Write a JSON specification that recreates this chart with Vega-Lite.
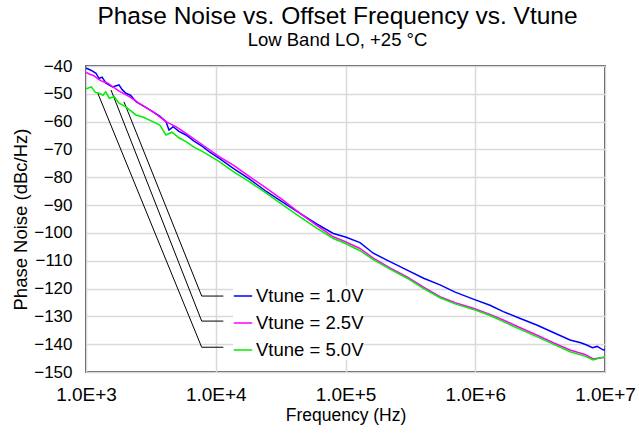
{
  "$schema": "https://vega.github.io/schema/vega-lite/v6.json",
  "autosize": {"type": "none"},
  "padding": {"left": 86, "top": 66, "right": 34, "bottom": 64},
  "width": 519,
  "height": 306,
  "background": "white",
  "config": {
    "font": "Liberation Sans",
    "view": {"stroke": "#222222", "strokeWidth": 1.6},
    "axis": {"gridColor": "#d9d9d9", "gridWidth": 1.5, "domain": false, "ticks": false, "labelFont": "Liberation Sans", "titleFont": "Liberation Sans", "labelColor": "#000", "titleColor": "#000", "titleFontWeight": "normal"}
  },
  "title": {
    "text": "Phase Noise vs. Offset Frequency vs. Vtune",
    "subtitle": "Low Band LO, +25 °C",
    "font": "Liberation Sans",
    "fontSize": 24.5,
    "fontWeight": "normal",
    "color": "#000",
    "subtitleFont": "Liberation Sans",
    "subtitleFontSize": 18.5,
    "subtitleColor": "#000",
    "subtitlePadding": 1,
    "anchor": "middle",
    "dx": -8,
    "offset": 7
  },
  "datasets": {
    "curves": [
      {"f": 1000, "v": -40.8, "s": "Vtune = 1.0V"},
      {"f": 1030, "v": -41.0, "s": "Vtune = 1.0V"},
      {"f": 1100, "v": -41.6, "s": "Vtune = 1.0V"},
      {"f": 1194, "v": -42.6, "s": "Vtune = 1.0V"},
      {"f": 1260, "v": -44.5, "s": "Vtune = 1.0V"},
      {"f": 1330, "v": -44.0, "s": "Vtune = 1.0V"},
      {"f": 1426, "v": -46.2, "s": "Vtune = 1.0V"},
      {"f": 1600, "v": -47.5, "s": "Vtune = 1.0V"},
      {"f": 1796, "v": -46.8, "s": "Vtune = 1.0V"},
      {"f": 1900, "v": -48.5, "s": "Vtune = 1.0V"},
      {"f": 2034, "v": -49.8, "s": "Vtune = 1.0V"},
      {"f": 2200, "v": -50.5, "s": "Vtune = 1.0V"},
      {"f": 2428, "v": -52.8, "s": "Vtune = 1.0V"},
      {"f": 2800, "v": -54.5, "s": "Vtune = 1.0V"},
      {"f": 3267, "v": -56.4, "s": "Vtune = 1.0V"},
      {"f": 3700, "v": -58.0, "s": "Vtune = 1.0V"},
      {"f": 4137, "v": -60.0, "s": "Vtune = 1.0V"},
      {"f": 4362, "v": -63.0, "s": "Vtune = 1.0V"},
      {"f": 4700, "v": -61.8, "s": "Vtune = 1.0V"},
      {"f": 5200, "v": -63.5, "s": "Vtune = 1.0V"},
      {"f": 5898, "v": -64.8, "s": "Vtune = 1.0V"},
      {"f": 6800, "v": -67.0, "s": "Vtune = 1.0V"},
      {"f": 7935, "v": -69.0, "s": "Vtune = 1.0V"},
      {"f": 9000, "v": -71.0, "s": "Vtune = 1.0V"},
      {"f": 10651, "v": -73.2, "s": "Vtune = 1.0V"},
      {"f": 13654, "v": -76.8, "s": "Vtune = 1.0V"},
      {"f": 18000, "v": -80.5, "s": "Vtune = 1.0V"},
      {"f": 24703, "v": -85.2, "s": "Vtune = 1.0V"},
      {"f": 33000, "v": -89.0, "s": "Vtune = 1.0V"},
      {"f": 44610, "v": -93.0, "s": "Vtune = 1.0V"},
      {"f": 60000, "v": -96.8, "s": "Vtune = 1.0V"},
      {"f": 80540, "v": -100.2, "s": "Vtune = 1.0V"},
      {"f": 100000, "v": -101.5, "s": "Vtune = 1.0V"},
      {"f": 129340, "v": -103.5, "s": "Vtune = 1.0V"},
      {"f": 163800, "v": -107.3, "s": "Vtune = 1.0V"},
      {"f": 220000, "v": -110.3, "s": "Vtune = 1.0V"},
      {"f": 296200, "v": -113.3, "s": "Vtune = 1.0V"},
      {"f": 400000, "v": -116.3, "s": "Vtune = 1.0V"},
      {"f": 534900, "v": -118.7, "s": "Vtune = 1.0V"},
      {"f": 700000, "v": -121.3, "s": "Vtune = 1.0V"},
      {"f": 966000, "v": -123.8, "s": "Vtune = 1.0V"},
      {"f": 1299000, "v": -126.0, "s": "Vtune = 1.0V"},
      {"f": 1645000, "v": -128.3, "s": "Vtune = 1.0V"},
      {"f": 2200000, "v": -130.7, "s": "Vtune = 1.0V"},
      {"f": 2976000, "v": -133.1, "s": "Vtune = 1.0V"},
      {"f": 4000000, "v": -135.8, "s": "Vtune = 1.0V"},
      {"f": 5374000, "v": -138.5, "s": "Vtune = 1.0V"},
      {"f": 6500000, "v": -139.5, "s": "Vtune = 1.0V"},
      {"f": 7228000, "v": -140.3, "s": "Vtune = 1.0V"},
      {"f": 8000000, "v": -141.3, "s": "Vtune = 1.0V"},
      {"f": 8700000, "v": -140.8, "s": "Vtune = 1.0V"},
      {"f": 9705000, "v": -142.1, "s": "Vtune = 1.0V"},
      {"f": 10000000, "v": -141.9, "s": "Vtune = 1.0V"},

      {"f": 1000, "v": -42.3, "s": "Vtune = 2.5V"},
      {"f": 1050, "v": -42.8, "s": "Vtune = 2.5V"},
      {"f": 1150, "v": -43.5, "s": "Vtune = 2.5V"},
      {"f": 1250, "v": -44.8, "s": "Vtune = 2.5V"},
      {"f": 1345, "v": -45.6, "s": "Vtune = 2.5V"},
      {"f": 1450, "v": -46.0, "s": "Vtune = 2.5V"},
      {"f": 1606, "v": -47.4, "s": "Vtune = 2.5V"},
      {"f": 1800, "v": -49.0, "s": "Vtune = 2.5V"},
      {"f": 2157, "v": -51.0, "s": "Vtune = 2.5V"},
      {"f": 2575, "v": -53.4, "s": "Vtune = 2.5V"},
      {"f": 3267, "v": -56.4, "s": "Vtune = 2.5V"},
      {"f": 4137, "v": -60.0, "s": "Vtune = 2.5V"},
      {"f": 5000, "v": -62.0, "s": "Vtune = 2.5V"},
      {"f": 5898, "v": -64.2, "s": "Vtune = 2.5V"},
      {"f": 7935, "v": -68.4, "s": "Vtune = 2.5V"},
      {"f": 10651, "v": -72.6, "s": "Vtune = 2.5V"},
      {"f": 13654, "v": -75.6, "s": "Vtune = 2.5V"},
      {"f": 18000, "v": -79.6, "s": "Vtune = 2.5V"},
      {"f": 24703, "v": -84.0, "s": "Vtune = 2.5V"},
      {"f": 33000, "v": -88.2, "s": "Vtune = 2.5V"},
      {"f": 44610, "v": -93.0, "s": "Vtune = 2.5V"},
      {"f": 60000, "v": -97.3, "s": "Vtune = 2.5V"},
      {"f": 80540, "v": -101.4, "s": "Vtune = 2.5V"},
      {"f": 100000, "v": -103.2, "s": "Vtune = 2.5V"},
      {"f": 129340, "v": -105.6, "s": "Vtune = 2.5V"},
      {"f": 163800, "v": -109.1, "s": "Vtune = 2.5V"},
      {"f": 220000, "v": -112.6, "s": "Vtune = 2.5V"},
      {"f": 296200, "v": -115.7, "s": "Vtune = 2.5V"},
      {"f": 400000, "v": -119.5, "s": "Vtune = 2.5V"},
      {"f": 534900, "v": -122.9, "s": "Vtune = 2.5V"},
      {"f": 700000, "v": -125.1, "s": "Vtune = 2.5V"},
      {"f": 966000, "v": -127.1, "s": "Vtune = 2.5V"},
      {"f": 1300000, "v": -129.3, "s": "Vtune = 2.5V"},
      {"f": 1645000, "v": -131.3, "s": "Vtune = 2.5V"},
      {"f": 2200000, "v": -134.0, "s": "Vtune = 2.5V"},
      {"f": 2976000, "v": -136.7, "s": "Vtune = 2.5V"},
      {"f": 4000000, "v": -139.5, "s": "Vtune = 2.5V"},
      {"f": 5374000, "v": -142.1, "s": "Vtune = 2.5V"},
      {"f": 7000000, "v": -143.7, "s": "Vtune = 2.5V"},
      {"f": 8128000, "v": -145.3, "s": "Vtune = 2.5V"},
      {"f": 9000000, "v": -145.0, "s": "Vtune = 2.5V"},
      {"f": 10000000, "v": -144.7, "s": "Vtune = 2.5V"},

      {"f": 1000, "v": -48.2, "s": "Vtune = 5.0V"},
      {"f": 1030, "v": -48.0, "s": "Vtune = 5.0V"},
      {"f": 1100, "v": -47.5, "s": "Vtune = 5.0V"},
      {"f": 1180, "v": -49.5, "s": "Vtune = 5.0V"},
      {"f": 1266, "v": -49.8, "s": "Vtune = 5.0V"},
      {"f": 1350, "v": -50.5, "s": "Vtune = 5.0V"},
      {"f": 1420, "v": -49.3, "s": "Vtune = 5.0V"},
      {"f": 1512, "v": -51.6, "s": "Vtune = 5.0V"},
      {"f": 1650, "v": -51.0, "s": "Vtune = 5.0V"},
      {"f": 1796, "v": -53.4, "s": "Vtune = 5.0V"},
      {"f": 2000, "v": -54.5, "s": "Vtune = 5.0V"},
      {"f": 2428, "v": -57.6, "s": "Vtune = 5.0V"},
      {"f": 2800, "v": -58.5, "s": "Vtune = 5.0V"},
      {"f": 3267, "v": -60.0, "s": "Vtune = 5.0V"},
      {"f": 3700, "v": -61.2, "s": "Vtune = 5.0V"},
      {"f": 4137, "v": -64.8, "s": "Vtune = 5.0V"},
      {"f": 4600, "v": -63.8, "s": "Vtune = 5.0V"},
      {"f": 5200, "v": -65.8, "s": "Vtune = 5.0V"},
      {"f": 5898, "v": -67.2, "s": "Vtune = 5.0V"},
      {"f": 6800, "v": -69.2, "s": "Vtune = 5.0V"},
      {"f": 7935, "v": -70.8, "s": "Vtune = 5.0V"},
      {"f": 9000, "v": -72.3, "s": "Vtune = 5.0V"},
      {"f": 10651, "v": -74.4, "s": "Vtune = 5.0V"},
      {"f": 13654, "v": -78.0, "s": "Vtune = 5.0V"},
      {"f": 18000, "v": -81.5, "s": "Vtune = 5.0V"},
      {"f": 24703, "v": -85.8, "s": "Vtune = 5.0V"},
      {"f": 33000, "v": -90.0, "s": "Vtune = 5.0V"},
      {"f": 44610, "v": -94.2, "s": "Vtune = 5.0V"},
      {"f": 60000, "v": -98.3, "s": "Vtune = 5.0V"},
      {"f": 80540, "v": -102.0, "s": "Vtune = 5.0V"},
      {"f": 100000, "v": -103.8, "s": "Vtune = 5.0V"},
      {"f": 129340, "v": -106.4, "s": "Vtune = 5.0V"},
      {"f": 163800, "v": -109.6, "s": "Vtune = 5.0V"},
      {"f": 220000, "v": -113.0, "s": "Vtune = 5.0V"},
      {"f": 296200, "v": -116.2, "s": "Vtune = 5.0V"},
      {"f": 400000, "v": -120.0, "s": "Vtune = 5.0V"},
      {"f": 534900, "v": -123.3, "s": "Vtune = 5.0V"},
      {"f": 700000, "v": -125.5, "s": "Vtune = 5.0V"},
      {"f": 966000, "v": -127.5, "s": "Vtune = 5.0V"},
      {"f": 1300000, "v": -129.7, "s": "Vtune = 5.0V"},
      {"f": 1645000, "v": -131.9, "s": "Vtune = 5.0V"},
      {"f": 2200000, "v": -134.6, "s": "Vtune = 5.0V"},
      {"f": 2976000, "v": -137.3, "s": "Vtune = 5.0V"},
      {"f": 4000000, "v": -140.0, "s": "Vtune = 5.0V"},
      {"f": 5374000, "v": -142.7, "s": "Vtune = 5.0V"},
      {"f": 7000000, "v": -144.3, "s": "Vtune = 5.0V"},
      {"f": 8128000, "v": -145.7, "s": "Vtune = 5.0V"},
      {"f": 9000000, "v": -145.0, "s": "Vtune = 5.0V"},
      {"f": 10000000, "v": -144.7, "s": "Vtune = 5.0V"}
    ],
    "leaders": [
      {"g": "a", "o": 1, "f": 1963, "v": -52.9},
      {"g": "a", "o": 2, "f": 7793, "v": -122.7},
      {"g": "a", "o": 3, "f": 11437, "v": -122.7},
      {"g": "b", "o": 1, "f": 1558, "v": -48.6},
      {"g": "b", "o": 2, "f": 7793, "v": -131.7},
      {"g": "b", "o": 3, "f": 11437, "v": -131.7},
      {"g": "c", "o": 1, "f": 1231, "v": -49.7},
      {"g": "c", "o": 2, "f": 7793, "v": -141.1},
      {"g": "c", "o": 3, "f": 11437, "v": -141.1}
    ]
  },
  "encoding": {
    "x": {
      "field": "f", "type": "quantitative",
      "scale": {"type": "log", "domain": [1000, 10000000], "nice": false},
      "axis": {"title": "Frequency (Hz)", "values": [1000, 10000, 100000, 1000000, 10000000], "labelExpr": "'1.0E+' + round(log(datum.value) / LN10)", "labelFontSize": 19, "titleFontSize": 17.5, "labelPadding": 13, "titlePadding": 2, "labelFlush": false}
    },
    "y": {
      "field": "v", "type": "quantitative",
      "scale": {"domain": [-150, -40], "nice": false, "zero": false},
      "axis": {"title": "Phase Noise (dBc/Hz)", "values": [-150, -140, -130, -120, -110, -100, -90, -80, -70, -60, -50, -40], "labelFontSize": 17, "titleFontSize": 18.5, "labelPadding": 14, "titlePadding": 3}
    }
  },
  "layer": [
    {
      "data": {"name": "leaders"},
      "mark": {"type": "line", "color": "#000000", "strokeWidth": 1},
      "encoding": {"detail": {"field": "g"}, "order": {"field": "o"}}
    },
    {
      "data": {"name": "curves"},
      "mark": {"type": "line", "strokeWidth": 1.5},
      "encoding": {
        "color": {
          "field": "s", "type": "nominal",
          "scale": {"domain": ["Vtune = 1.0V", "Vtune = 2.5V", "Vtune = 5.0V"], "range": ["#0000ff", "#ff00ff", "#00ee00"]},
          "legend": {
            "title": null, "orient": "none", "legendX": 147, "legendY": 220,
            "padding": 0, "fillColor": "white", "strokeColor": null,
            "symbolType": "stroke", "symbolSize": 340, "symbolStrokeWidth": 1.5,
            "labelFont": "Liberation Sans", "labelFontSize": 18.5, "labelColor": "#000",
            "labelOffset": 3, "rowPadding": 7
          }
        }
      }
    }
  ]
}
